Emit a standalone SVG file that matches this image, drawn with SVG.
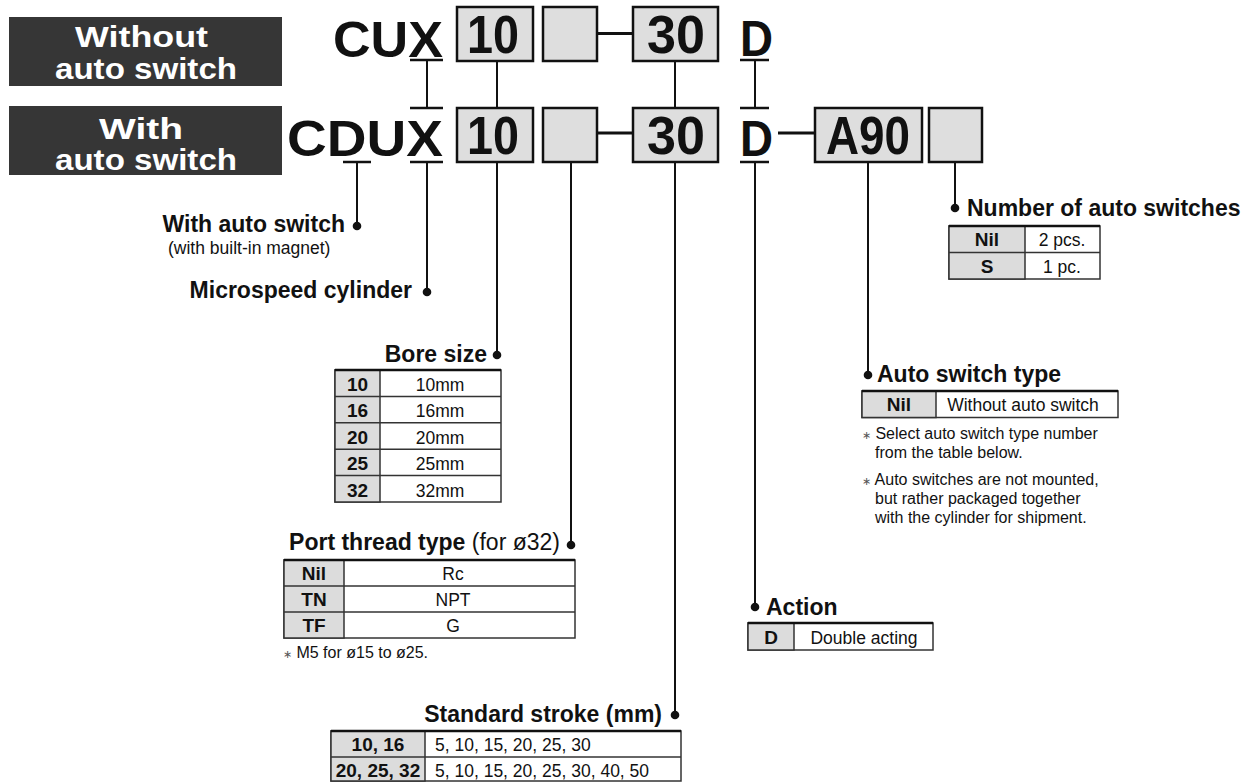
<svg xmlns="http://www.w3.org/2000/svg" width="1260" height="782" viewBox="0 0 1260 782">
<style>
.hdr{fill:#363636}
.hdrt{font-family:"Liberation Sans",Arial,sans-serif;font-weight:bold;font-size:30px;fill:#fff}
.code{font-family:"Liberation Sans",Arial,sans-serif;font-weight:bold;font-size:50px;fill:#111}
.bt{font-family:"Liberation Sans",Arial,sans-serif;font-weight:bold;font-size:53px;fill:#111}
.box{fill:#dedede;stroke:#111;stroke-width:2.5}
.ln{stroke:#111;stroke-width:2;fill:none}
.ul{stroke:#111;stroke-width:2.5}
.dash{stroke:#111;stroke-width:3}
.dot{fill:#111}
.lbl{font-family:"Liberation Sans",Arial,sans-serif;font-weight:bold;font-size:23px;fill:#111}
.lr{font-weight:normal}
.sub{font-family:"Liberation Sans",Arial,sans-serif;font-size:17.5px;fill:#111}
.note{font-family:"Liberation Sans",Arial,sans-serif;font-size:16px;fill:#111}
.ast{font-size:11px;fill:#555}
.k{font-family:"Liberation Sans",Arial,sans-serif;font-weight:bold;font-size:19px;fill:#111;text-anchor:middle}
.v{font-family:"Liberation Sans",Arial,sans-serif;font-size:17.5px;fill:#111}
.m{text-anchor:middle}
.tw{fill:#fff;stroke:#333;stroke-width:1.5}
.kc{fill:#dcdcdc;stroke:#333;stroke-width:1.5}
.rl{stroke:#333;stroke-width:1.5}
.top{stroke:#111;stroke-width:2.5}
</style>

<g id="header-without">
<rect class="hdr" x="9" y="17" width="273" height="69"/>
<text class="hdrt" x="75" y="47" textLength="133" lengthAdjust="spacingAndGlyphs">Without</text>
<text class="hdrt" x="55" y="79" textLength="182" lengthAdjust="spacingAndGlyphs">auto switch</text>
</g>
<g id="header-with">
<rect class="hdr" x="9" y="106" width="273" height="69"/>
<text class="hdrt" x="99" y="139" textLength="84" lengthAdjust="spacingAndGlyphs">With</text>
<text class="hdrt" x="55" y="170" textLength="182" lengthAdjust="spacingAndGlyphs">auto switch</text>
</g>

<g id="code-row1">
<text class="code" x="333" y="57" textLength="110" lengthAdjust="spacingAndGlyphs">CUX</text>
<rect class="box" x="457" y="7" width="76" height="54"/>
<text class="bt" x="467" y="53" textLength="52" lengthAdjust="spacingAndGlyphs">10</text>
<rect class="box" x="543" y="7" width="54" height="54"/>
<rect class="box" x="633" y="7" width="85" height="54"/>
<text class="bt" x="647" y="53" textLength="58" lengthAdjust="spacingAndGlyphs">30</text>
<text class="code" x="740" y="56" textLength="33" lengthAdjust="spacingAndGlyphs">D</text>
</g>

<g id="code-row2">
<text class="code" x="287" y="156" textLength="156" lengthAdjust="spacingAndGlyphs">CDUX</text>
<rect class="box" x="457" y="108" width="76" height="54"/>
<text class="bt" x="467" y="154" textLength="52" lengthAdjust="spacingAndGlyphs">10</text>
<rect class="box" x="543" y="108" width="54" height="54"/>
<rect class="box" x="633" y="108" width="85" height="54"/>
<text class="bt" x="647" y="154" textLength="58" lengthAdjust="spacingAndGlyphs">30</text>
<text class="code" x="740" y="156" textLength="33" lengthAdjust="spacingAndGlyphs">D</text>
<rect class="box" x="815" y="108" width="107" height="54"/>
<text class="bt" x="826" y="154" textLength="84" lengthAdjust="spacingAndGlyphs">A90</text>
<rect class="box" x="929" y="108" width="53" height="54"/>
</g>

<g id="connectors">
<line class="ul" x1="410" y1="60" x2="443" y2="60"/>
<line class="ul" x1="410" y1="108" x2="443" y2="108"/>
<line class="ul" x1="410" y1="162" x2="443" y2="162"/>
<line class="ul" x1="343" y1="162" x2="371" y2="162"/>
<line class="ul" x1="740" y1="60" x2="769" y2="60"/>
<line class="ul" x1="740" y1="108" x2="769" y2="108"/>
<line class="ul" x1="740" y1="162" x2="769" y2="162"/>
<line class="dash" x1="597" y1="33.5" x2="633" y2="33.5"/>
<line class="dash" x1="597" y1="133" x2="633" y2="133"/>
<line class="dash" x1="778" y1="133" x2="815" y2="133"/>
<line class="ln" x1="427" y1="60" x2="427" y2="108"/>
<line class="ln" x1="497" y1="61" x2="497" y2="108"/>
<line class="ln" x1="675" y1="61" x2="675" y2="108"/>
<line class="ln" x1="755" y1="60" x2="755" y2="108"/>
<line class="ln" x1="357" y1="162" x2="357" y2="226"/>
<line class="ln" x1="427" y1="162" x2="427" y2="292"/>
<line class="ln" x1="497" y1="162" x2="497" y2="355"/>
<line class="ln" x1="571" y1="162" x2="571" y2="545"/>
<line class="ln" x1="675" y1="162" x2="675" y2="715"/>
<line class="ln" x1="755" y1="162" x2="755" y2="607"/>
<line class="ln" x1="868" y1="162" x2="868" y2="375"/>
<line class="ln" x1="955" y1="162" x2="955" y2="208"/>
<circle class="dot" cx="357" cy="226" r="4.3"/>
<circle class="dot" cx="427" cy="292" r="4.3"/>
<circle class="dot" cx="497" cy="355" r="4.3"/>
<circle class="dot" cx="571" cy="545" r="4.3"/>
<circle class="dot" cx="675" cy="715" r="4.3"/>
<circle class="dot" cx="755" cy="607" r="4.3"/>
<circle class="dot" cx="868" cy="375" r="4.3"/>
<circle class="dot" cx="955" cy="208" r="4.3"/>
</g>

<g id="with-auto-switch">
<text class="lbl" x="345" y="232" text-anchor="end">With auto switch</text>
<text class="sub" x="168" y="254">(with built-in magnet)</text>
</g>

<g id="microspeed">
<text class="lbl" x="412" y="298" text-anchor="end">Microspeed cylinder</text>
</g>

<g id="bore-size">
<text class="lbl" x="487" y="362" text-anchor="end">Bore size</text>
<rect class="tw" x="335" y="370" width="166" height="132"/>
<rect class="kc" x="335" y="370" width="45" height="132"/>
<line class="rl" x1="335" y1="396.4" x2="501" y2="396.4"/>
<line class="rl" x1="335" y1="422.8" x2="501" y2="422.8"/>
<line class="rl" x1="335" y1="449.2" x2="501" y2="449.2"/>
<line class="rl" x1="335" y1="475.6" x2="501" y2="475.6"/>
<line class="top" x1="335" y1="370" x2="501" y2="370"/>
<text class="k" x="357.5" y="391">10</text>
<text class="k" x="357.5" y="417.4">16</text>
<text class="k" x="357.5" y="443.8">20</text>
<text class="k" x="357.5" y="470.2">25</text>
<text class="k" x="357.5" y="496.6">32</text>
<text class="v m" x="440" y="391">10mm</text>
<text class="v m" x="440" y="417.4">16mm</text>
<text class="v m" x="440" y="443.8">20mm</text>
<text class="v m" x="440" y="470.2">25mm</text>
<text class="v m" x="440" y="496.6">32mm</text>
</g>

<g id="port-thread">
<text class="lbl" x="560" y="550" text-anchor="end">Port thread type<tspan class="lr"> (for ø32)</tspan></text>
<rect class="tw" x="284" y="560" width="291" height="78"/>
<rect class="kc" x="284" y="560" width="60" height="78"/>
<line class="rl" x1="284" y1="586" x2="575" y2="586"/>
<line class="rl" x1="284" y1="612" x2="575" y2="612"/>
<line class="top" x1="284" y1="560" x2="575" y2="560"/>
<text class="k" x="314" y="580">Nil</text>
<text class="k" x="314" y="606">TN</text>
<text class="k" x="314" y="632">TF</text>
<text class="v m" x="453" y="580">Rc</text>
<text class="v m" x="453" y="606">NPT</text>
<text class="v m" x="453" y="632">G</text>
<text class="note" x="283" y="658"><tspan class="ast">∗</tspan> M5 for ø15 to ø25.</text>
</g>

<g id="stroke">
<text class="lbl" x="662" y="722" text-anchor="end">Standard stroke (mm)</text>
<rect class="tw" x="331" y="731" width="350" height="50"/>
<rect class="kc" x="331" y="731" width="94" height="50"/>
<line class="rl" x1="331" y1="757" x2="681" y2="757"/>
<line class="top" x1="331" y1="731" x2="681" y2="731"/>
<text class="k" x="378" y="751">10, 16</text>
<text class="k" x="378" y="777">20, 25, 32</text>
<text class="v" x="435" y="751">5, 10, 15, 20, 25, 30</text>
<text class="v" x="435" y="777">5, 10, 15, 20, 25, 30, 40, 50</text>
</g>

<g id="action">
<text class="lbl" x="766" y="615">Action</text>
<rect class="tw" x="748" y="623" width="185" height="27"/>
<rect class="kc" x="748" y="623" width="46" height="27"/>
<line class="top" x1="748" y1="623" x2="933" y2="623"/>
<text class="k" x="771" y="643.5">D</text>
<text class="v m" x="864" y="643.5">Double acting</text>
</g>

<g id="auto-switch-type">
<text class="lbl" x="877" y="382">Auto switch type</text>
<rect class="tw" x="862" y="391" width="256" height="26.5"/>
<rect class="kc" x="862" y="391" width="74" height="26.5"/>
<line class="top" x1="862" y1="391" x2="1118" y2="391"/>
<text class="k" x="899" y="411">Nil</text>
<text class="v m" x="1023" y="411">Without auto switch</text>
<text class="note" x="862" y="439"><tspan class="ast">∗</tspan> Select auto switch type number</text>
<text class="note" x="875" y="458">from the table below.</text>
<text class="note" x="862" y="485"><tspan class="ast">∗</tspan> Auto switches are not mounted,</text>
<text class="note" x="875" y="504">but rather packaged together</text>
<text class="note" x="875" y="523">with the cylinder for shipment.</text>
</g>

<g id="number-of-switches">
<text class="lbl" x="967" y="216">Number of auto switches</text>
<rect class="tw" x="949" y="226" width="151" height="53"/>
<rect class="kc" x="949" y="226" width="76" height="53"/>
<line class="rl" x1="949" y1="252.5" x2="1100" y2="252.5"/>
<line class="top" x1="949" y1="226" x2="1100" y2="226"/>
<text class="k" x="987" y="246">Nil</text>
<text class="k" x="987" y="272.5">S</text>
<text class="v m" x="1062" y="246">2 pcs.</text>
<text class="v m" x="1062" y="272.5">1 pc.</text>
</g>
</svg>
